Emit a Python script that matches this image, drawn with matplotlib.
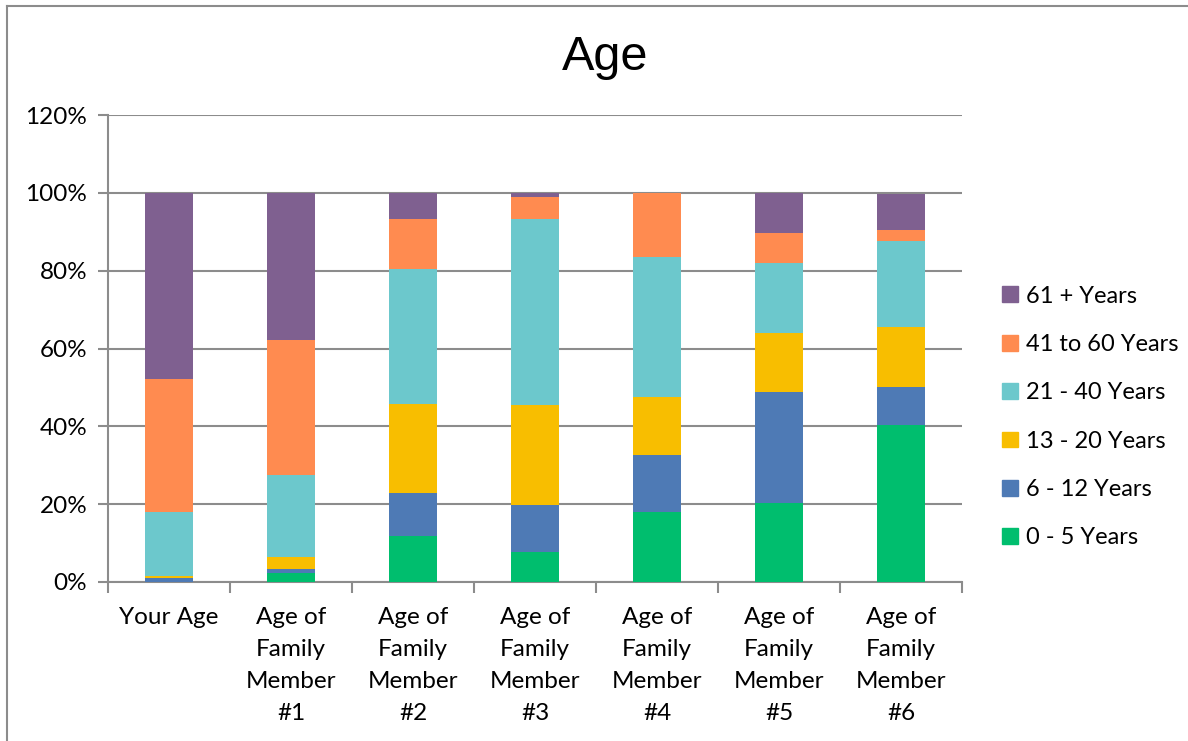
import numpy as np
import matplotlib.pyplot as plt
from matplotlib.patches import Patch
from matplotlib.lines import Line2D

# Categories and cumulative reading turned into per-band shares (%)
categories = ['Your Age', 'Age of\nFamily\nMember\n#1', 'Age of\nFamily\nMember\n#2',
              'Age of\nFamily\nMember\n#3', 'Age of\nFamily\nMember\n#4',
              'Age of\nFamily\nMember\n#5', 'Age of\nFamily\nMember\n#6']
age_0_5 = [0.0, 2.2, 11.8, 7.6, 17.9, 20.3, 40.4]
age_6_12 = [1.0, 1.2, 11.0, 12.3, 14.7, 28.4, 9.6]
age_13_20 = [0.5, 3.0, 22.9, 25.6, 14.9, 15.3, 15.6]
age_21_40 = [16.6, 21.1, 34.7, 47.8, 36.0, 18.0, 21.9]
age_41_60 = [34.0, 34.7, 12.9, 5.7, 16.5, 7.8, 2.9]
age_61_up = [47.9, 37.8, 6.7, 1.0, 0.0, 10.2, 9.4]

series_names = ['0 - 5 Years', '6 - 12 Years', '13 - 20 Years',
                '21 - 40 Years', '41 to 60 Years', '61 + Years']
series = [age_0_5, age_6_12, age_13_20, age_21_40, age_41_60, age_61_up]
colors = ['#00BE6E', '#4E7AB5', '#F8BE00', '#6CC8CC', '#FF8B50', '#7F6090']

font = ['Lato', 'DejaVu Sans']
plt.rcParams['font.family'] = font

fig = plt.figure(figsize=(11.88, 7.41), dpi=100)
ax = fig.add_axes([108 / 1188, 1 - 582 / 741, (962 - 108) / 1188, (582 - 115) / 741])

x = np.arange(len(categories))
bottom = np.zeros(len(categories))
for vals, col, name in zip(series, colors, series_names):
    vals = np.array(vals)
    ax.bar(x, vals, 0.4, bottom=bottom, color=col, label=name, zorder=3)
    bottom += vals

grid_col = '#8C8C8C'
ax.set_xlim(-0.5, len(categories) - 0.5)
ax.set_ylim(0, 120)
ax.set_yticks(np.arange(0, 121, 20))
ax.set_yticklabels(['%d%%' % v for v in range(0, 121, 20)], fontsize=17.5)
ax.yaxis.grid(True, color=grid_col, linewidth=1.5, zorder=0)
ax.set_axisbelow(True)

# category labels between boundary tick marks
ax.set_xticks(np.arange(-0.5, len(categories), 1.0))
ax.set_xticklabels([])
ax.set_xticks(x, minor=True)
ax.set_xticklabels(categories, minor=True, fontsize=17.5, linespacing=1.65)
ax.tick_params(axis='x', which='minor', length=0, pad=18)
ax.tick_params(axis='x', which='major', length=8, width=1.5, color=grid_col)
ax.tick_params(axis='y', length=7, width=1.5, color=grid_col, pad=8)

for side in ['top', 'right']:
    ax.spines[side].set_visible(False)
for side in ['left', 'bottom']:
    ax.spines[side].set_color(grid_col)
    ax.spines[side].set_linewidth(1.5)

# Title
fig.text(605 / 1188, 1 - 57 / 741, 'Age', ha='center', va='center', fontsize=35,
         family=['Liberation Sans Narrow', 'Liberation Sans', 'DejaVu Sans'])

# Legend, top entry is the oldest band
handles = [Patch(facecolor=c, edgecolor=c) for c in colors][::-1]
fig.legend(handles, series_names[::-1], loc='center left',
           bbox_to_anchor=(981 / 1188, 1 - 417 / 741), frameon=False, fontsize=17,
           handlelength=0.65, handleheight=0.65, handletextpad=0.35, labelspacing=1.16)

# outer chart border (top and left visible)
fig.add_artist(Line2D([7 / 1188, 7 / 1188], [0, 1 - 6 / 741], transform=fig.transFigure,
                      color='#8C8C8C', linewidth=1.5))
fig.add_artist(Line2D([7 / 1188, 1], [1 - 6 / 741, 1 - 6 / 741], transform=fig.transFigure,
                      color='#8C8C8C', linewidth=1.5))

fig.savefig('out.png', dpi=100)
